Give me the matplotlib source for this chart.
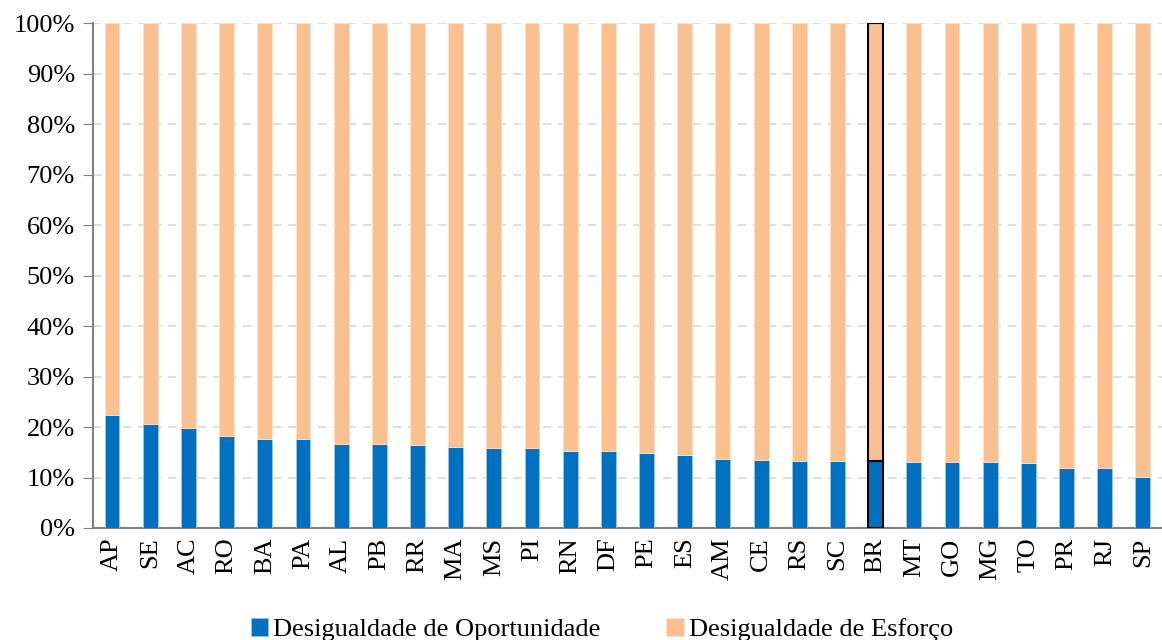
import matplotlib.pyplot as plt
import numpy as np
from matplotlib.ticker import PercentFormatter

plt.rcParams['font.family'] = ['Liberation Serif', 'DejaVu Serif']

estados = ['AP', 'SE', 'AC', 'RO', 'BA', 'PA', 'AL', 'PB', 'RR', 'MA', 'MS', 'PI', 'RN', 'DF',
           'PE', 'ES', 'AM', 'CE', 'RS', 'SC', 'BR', 'MT', 'GO', 'MG', 'TO', 'PR', 'RJ', 'SP']
oportunidade = [22.3, 20.5, 19.8, 18.2, 17.6, 17.6, 16.7, 16.7, 16.4, 16.0, 15.9, 15.9, 15.2, 15.2,
                14.8, 14.5, 13.7, 13.5, 13.3, 13.2, 13.3, 13.1, 13.0, 13.0, 12.9, 11.9, 11.9, 10.1]
esforco = [100 - v for v in oportunidade]

azul = '#0070C0'
laranja = '#FAC090'

fig = plt.figure(figsize=(11.62, 6.4), dpi=100)
ax = fig.add_axes([0.080, 0.175, 0.920, 0.789])

x = np.arange(len(estados))
w = 0.39
ax.bar(x, oportunidade, width=w, color=azul, edgecolor='#9DC3E6', linewidth=0.6,
       label='Desigualdade de Oportunidade', zorder=3)
ax.bar(x, esforco, width=w, bottom=oportunidade, color=laranja, edgecolor='#FDE3CC',
       linewidth=0.6, label='Desigualdade de Esforço', zorder=3)

# destaque do Brasil
i = estados.index('BR')
ax.bar(i, oportunidade[i], width=w, color=azul, edgecolor='black', linewidth=1.5, zorder=4)
ax.bar(i, esforco[i], width=w, bottom=oportunidade[i], color=laranja, edgecolor='black',
       linewidth=1.5, zorder=4)

ax.set_xlim(-0.5, len(estados) - 0.5)
ax.set_ylim(0, 100)
ax.set_yticks(np.arange(0, 101, 10))
ax.yaxis.set_major_formatter(PercentFormatter(decimals=0))
ax.set_xticks(x)
ax.set_xticklabels(estados, rotation=90)
ax.tick_params(axis='y', labelsize=19, length=7, color='#808080', pad=6)
ax.tick_params(axis='x', labelsize=19, length=0, pad=7)
ax.grid(axis='y', color='#D9D9D9', linestyle=(0, (5, 4)), linewidth=1.2, zorder=0)

for s in ['top', 'right']:
    ax.spines[s].set_visible(False)
for s in ['left', 'bottom']:
    ax.spines[s].set_color('#808080')
    ax.spines[s].set_linewidth(1.5)

fig.legend(loc='lower center', bbox_to_anchor=(0.518, -0.018), ncol=2, frameon=False,
           fontsize=19, handlelength=0.65, handleheight=0.65, handletextpad=0.2,
           columnspacing=2.5, borderaxespad=0)

fig.savefig('out.png', dpi=100)
